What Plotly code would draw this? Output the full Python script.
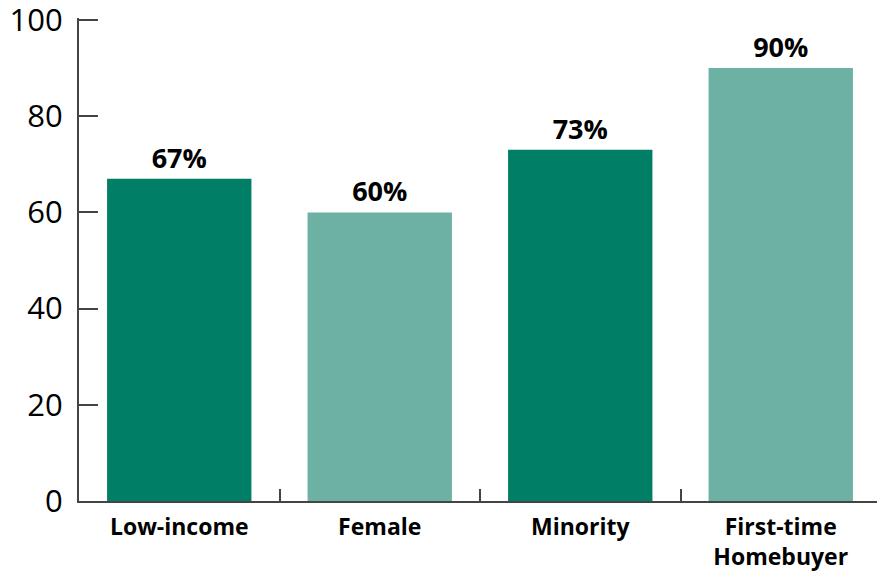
import plotly.graph_objects as go

categories = ["Low-income", "Female", "Minority", "First-time<br>Homebuyer"]
values = [67, 60, 73, 90]
labels = ["67%", "60%", "73%", "90%"]
colors = ["#007F66", "#6DB1A4", "#007F66", "#6DB1A4"]

# page body has an 8px margin, so the figure is sized to fit inside the window
OFF = 8
W, H = 885 - OFF, 573 - OFF
X0, X1, Y0, Y1 = 79 - OFF, 881 - OFF, 20 - OFF, 501 - OFF

# small padding beyond the last ticks so plotly keeps the end tick marks
YMAX, YPAD = 100, 0.4
XPAD = 0.012
ys = (Y1 - Y0) / YMAX
y_top = Y0 - YPAD * ys
xs = (X1 - X0) / 4
x_right = X1 + XPAD * xs

fig = go.Figure(go.Bar(
    x=categories, y=values, text=labels, textposition="outside",
    marker=dict(color=colors, line=dict(width=0)),
    width=0.72, cliponaxis=False,
    textfont=dict(family="Open Sans", size=27, color="black", weight="bold"),
))

fig.update_layout(
    width=W, height=H,
    margin=dict(l=0, r=0, t=0, b=0),
    plot_bgcolor="white", paper_bgcolor="white",
    showlegend=False,
    font=dict(family="Open Sans", color="black"),
)
fig.update_yaxes(
    domain=[(H - Y1) / H, (H - y_top) / H],
    range=[0, YMAX + YPAD], tickvals=[0, 20, 40, 60, 80, 100],
    showgrid=False, zeroline=False, automargin=False,
    showline=True, linecolor="#444", linewidth=2,
    ticks="inside", ticklen=19, tickwidth=2, tickcolor="#444",
    tickfont=dict(family="Open Sans", size=31, color="black"),
    ticklabelstandoff=8, ticklabeloverflow="allow",
)
fig.update_xaxes(
    domain=[X0 / W, x_right / W], range=[-0.5, 3.5 + XPAD], automargin=False,
    showgrid=False, showline=True, linecolor="#444", linewidth=2,
    ticks="inside", tickson="boundaries", ticklen=12, tickwidth=2, tickcolor="#444",
    tickfont=dict(family="Open Sans", size=23, color="black", weight="bold"),
    ticklabelstandoff=4, ticklabeloverflow="allow",
)

fig.write_html("out.html")
